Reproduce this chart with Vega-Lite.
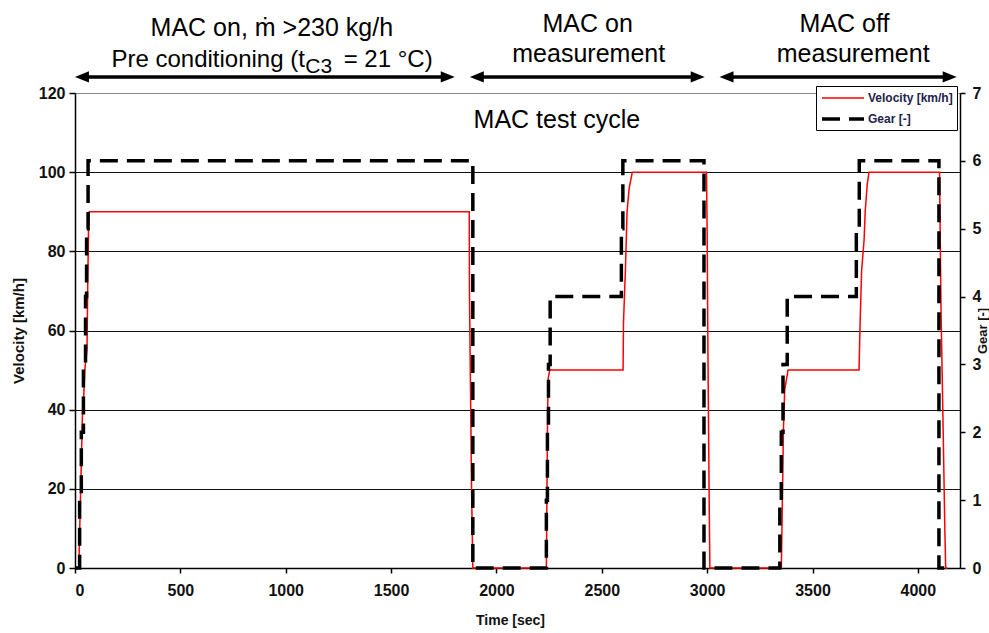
{
  "$schema": "https://vega.github.io/schema/vega-lite/v6.json",
  "width": 885,
  "height": 475,
  "autosize": {"type": "none"},
  "padding": {"left": 75, "top": 93, "right": 29, "bottom": 65},
  "background": "white",
  "config": {
    "view": {"stroke": null},
    "font": "Liberation Sans",
    "axis": {
      "labelFont": "Liberation Sans",
      "labelFontSize": 16,
      "labelFontWeight": "bold",
      "labelColor": "#111111",
      "titleFont": "Liberation Sans",
      "titleFontWeight": "bold",
      "titleColor": "#111111",
      "domainColor": "#000000",
      "domainWidth": 1.5,
      "tickColor": "#000000",
      "tickWidth": 1.5,
      "grid": false
    },
    "legend": {
      "orient": "none",
      "legendX": 741,
      "legendY": -7,
      "strokeColor": "#000000",
      "fillColor": "#ffffff",
      "padding": 4,
      "cornerRadius": 0,
      "labelFont": "Liberation Sans",
      "labelFontSize": 12,
      "labelFontWeight": "bold",
      "labelColor": "#22224a",
      "rowPadding": 6,
      "symbolType": "M-1,0H5",
      "symbolSize": 196,
      "labelOffset": 30
    }
  },
  "datasets": {
    "cycle": [
      {"s": "Velocity [km/h]", "t": 0, "y": 0},
      {"s": "Velocity [km/h]", "t": 18, "y": 0},
      {"s": "Velocity [km/h]", "t": 27, "y": 20},
      {"s": "Velocity [km/h]", "t": 36, "y": 40},
      {"s": "Velocity [km/h]", "t": 40, "y": 42},
      {"s": "Velocity [km/h]", "t": 48, "y": 51},
      {"s": "Velocity [km/h]", "t": 57, "y": 55},
      {"s": "Velocity [km/h]", "t": 60, "y": 70},
      {"s": "Velocity [km/h]", "t": 64, "y": 85},
      {"s": "Velocity [km/h]", "t": 68, "y": 90},
      {"s": "Velocity [km/h]", "t": 1871, "y": 90},
      {"s": "Velocity [km/h]", "t": 1872, "y": 70},
      {"s": "Velocity [km/h]", "t": 1875, "y": 55},
      {"s": "Velocity [km/h]", "t": 1878, "y": 40},
      {"s": "Velocity [km/h]", "t": 1882, "y": 20},
      {"s": "Velocity [km/h]", "t": 1888, "y": 0},
      {"s": "Velocity [km/h]", "t": 2237, "y": 0},
      {"s": "Velocity [km/h]", "t": 2240, "y": 20},
      {"s": "Velocity [km/h]", "t": 2243, "y": 40},
      {"s": "Velocity [km/h]", "t": 2246, "y": 48},
      {"s": "Velocity [km/h]", "t": 2253, "y": 50},
      {"s": "Velocity [km/h]", "t": 2601, "y": 50},
      {"s": "Velocity [km/h]", "t": 2603, "y": 62},
      {"s": "Velocity [km/h]", "t": 2612, "y": 75},
      {"s": "Velocity [km/h]", "t": 2620, "y": 90},
      {"s": "Velocity [km/h]", "t": 2630, "y": 96},
      {"s": "Velocity [km/h]", "t": 2645, "y": 100},
      {"s": "Velocity [km/h]", "t": 2997, "y": 100},
      {"s": "Velocity [km/h]", "t": 3000, "y": 85},
      {"s": "Velocity [km/h]", "t": 3003, "y": 60},
      {"s": "Velocity [km/h]", "t": 3006, "y": 40},
      {"s": "Velocity [km/h]", "t": 3010, "y": 15},
      {"s": "Velocity [km/h]", "t": 3013, "y": 0},
      {"s": "Velocity [km/h]", "t": 3352, "y": 0},
      {"s": "Velocity [km/h]", "t": 3358, "y": 20},
      {"s": "Velocity [km/h]", "t": 3362, "y": 35},
      {"s": "Velocity [km/h]", "t": 3368, "y": 45},
      {"s": "Velocity [km/h]", "t": 3384, "y": 50},
      {"s": "Velocity [km/h]", "t": 3721, "y": 50},
      {"s": "Velocity [km/h]", "t": 3723, "y": 55},
      {"s": "Velocity [km/h]", "t": 3726, "y": 62},
      {"s": "Velocity [km/h]", "t": 3733, "y": 75},
      {"s": "Velocity [km/h]", "t": 3745, "y": 83},
      {"s": "Velocity [km/h]", "t": 3750, "y": 90},
      {"s": "Velocity [km/h]", "t": 3760, "y": 97},
      {"s": "Velocity [km/h]", "t": 3768, "y": 100},
      {"s": "Velocity [km/h]", "t": 4103, "y": 100},
      {"s": "Velocity [km/h]", "t": 4106, "y": 84},
      {"s": "Velocity [km/h]", "t": 4110, "y": 65},
      {"s": "Velocity [km/h]", "t": 4120, "y": 35},
      {"s": "Velocity [km/h]", "t": 4128, "y": 10},
      {"s": "Velocity [km/h]", "t": 4132, "y": 0},
      {"s": "Velocity [km/h]", "t": 4140, "y": 0},
      {"s": "Gear [-]", "t": 0, "y": 0},
      {"s": "Gear [-]", "t": 22, "y": 1},
      {"s": "Gear [-]", "t": 30, "y": 2},
      {"s": "Gear [-]", "t": 40, "y": 3},
      {"s": "Gear [-]", "t": 50, "y": 4},
      {"s": "Gear [-]", "t": 55, "y": 5},
      {"s": "Gear [-]", "t": 62, "y": 6},
      {"s": "Gear [-]", "t": 1888, "y": 0},
      {"s": "Gear [-]", "t": 2237, "y": 1},
      {"s": "Gear [-]", "t": 2242, "y": 2},
      {"s": "Gear [-]", "t": 2247, "y": 3},
      {"s": "Gear [-]", "t": 2255, "y": 4},
      {"s": "Gear [-]", "t": 2593, "y": 5},
      {"s": "Gear [-]", "t": 2600, "y": 6},
      {"s": "Gear [-]", "t": 2985, "y": 0},
      {"s": "Gear [-]", "t": 3345, "y": 1},
      {"s": "Gear [-]", "t": 3352, "y": 2},
      {"s": "Gear [-]", "t": 3360, "y": 3},
      {"s": "Gear [-]", "t": 3380, "y": 4},
      {"s": "Gear [-]", "t": 3708, "y": 5},
      {"s": "Gear [-]", "t": 3722, "y": 6},
      {"s": "Gear [-]", "t": 4100, "y": 0},
      {"s": "Gear [-]", "t": 4145, "y": 0}
    ]
  },
  "layer": [
    {
      "layer": [
        {
          "data": {"name": "cycle"},
          "transform": [{"filter": "datum.s === 'Velocity [km/h]'"}],
          "mark": {"type": "line", "interpolate": "linear"},
          "encoding": {
            "x": {
              "field": "t", "type": "quantitative", "title": "Time [sec]",
              "scale": {"domain": [0, 4200], "nice": false, "zero": false},
              "axis": {
                "values": [0, 500, 1000, 1500, 2000, 2500, 3000, 3500, 4000],
                "format": "d",
                "titleFontSize": 14, "titleX": 435, "titleY": 45,
                "titleAlign": "center", "titleBaseline": "top",
                "labelPadding": 9, "tickSize": 5
              }
            },
            "y": {
              "field": "y", "type": "quantitative", "title": "Velocity [km/h]",
              "scale": {"domain": [0, 120], "nice": false},
              "axis": {
                "values": [0, 20, 40, 60, 80, 100, 120],
                "grid": true,
                "gridColor": {"condition": {"test": "datum.value === 120", "value": "#8a8a8a"}, "value": "#111111"},
                "gridWidth": 1.2,
                "titleFontSize": 15, "titleX": -64, "titleY": 237.5,
                "titleAngle": 270, "titleAlign": "center", "titleBaseline": "top",
                "labelPadding": 4, "tickSize": 6
              }
            },
            "color": {
              "field": "s", "type": "nominal",
              "scale": {"domain": ["Velocity [km/h]", "Gear [-]"], "range": ["#ff0000", "#000000"]},
              "legend": {"title": null}
            },
            "strokeDash": {
              "field": "s", "type": "nominal",
              "scale": {"domain": ["Velocity [km/h]", "Gear [-]"], "range": [[1, 0], [18, 9]]},
              "legend": {"title": null}
            },
            "strokeWidth": {
              "field": "s", "type": "nominal",
              "scale": {"domain": ["Velocity [km/h]", "Gear [-]"], "range": [1.5, 3.5]},
              "legend": {"title": null}
            }
          }
        },
        {
          "data": {"values": [
            {"t": 934, "y": 134.4, "label": "MAC on, ṁ >230 kg/h"},
            {"t": 2433, "y": 135.4, "label": "MAC on"},
            {"t": 2438, "y": 127.8, "label": "measurement"},
            {"t": 3652, "y": 135.4, "label": "MAC off"},
            {"t": 3693, "y": 127.8, "label": "measurement"},
            {"t": 2287, "y": 111.2, "label": "MAC test cycle"}
          ]},
          "mark": {"type": "text", "fontSize": 25, "align": "center", "baseline": "alphabetic", "color": "#000000"},
          "encoding": {
            "x": {"field": "t", "type": "quantitative", "title": "Time [sec]"},
            "y": {"field": "y", "type": "quantitative", "title": "Velocity [km/h]"},
            "text": {"field": "label"}
          }
        },
        {
          "data": {"values": [{"t": 1091, "y": 126.6, "label": "Pre conditioning (t"}]},
          "mark": {"type": "text", "fontSize": 24, "align": "right", "baseline": "alphabetic", "color": "#000000"},
          "encoding": {
            "x": {"field": "t", "type": "quantitative", "title": "Time [sec]"},
            "y": {"field": "y", "type": "quantitative", "title": "Velocity [km/h]"},
            "text": {"field": "label"}
          }
        },
        {
          "data": {"values": [{"t": 1093, "y": 125.1, "label": "C3"}]},
          "mark": {"type": "text", "fontSize": 21, "align": "left", "baseline": "alphabetic", "color": "#000000"},
          "encoding": {
            "x": {"field": "t", "type": "quantitative", "title": "Time [sec]"},
            "y": {"field": "y", "type": "quantitative", "title": "Velocity [km/h]"},
            "text": {"field": "label"}
          }
        },
        {
          "data": {"values": [{"t": 1275, "y": 126.6, "label": "= 21 °C)"}]},
          "mark": {"type": "text", "fontSize": 24, "align": "left", "baseline": "alphabetic", "color": "#000000"},
          "encoding": {
            "x": {"field": "t", "type": "quantitative", "title": "Time [sec]"},
            "y": {"field": "y", "type": "quantitative", "title": "Velocity [km/h]"},
            "text": {"field": "label"}
          }
        },
        {
          "data": {"values": [
            {"t": 33, "t2": 1769, "y": 124.05},
            {"t": 1907, "t2": 2955, "y": 124.05},
            {"t": 3092, "t2": 4151, "y": 124.05}
          ]},
          "mark": {"type": "rule", "strokeWidth": 3.5, "color": "#000000"},
          "encoding": {
            "x": {"field": "t", "type": "quantitative", "title": "Time [sec]"},
            "x2": {"field": "t2"},
            "y": {"field": "y", "type": "quantitative", "title": "Velocity [km/h]"}
          }
        },
        {
          "data": {"values": [
            {"t": 33, "y": 124.05},
            {"t": 1907, "y": 124.05},
            {"t": 3092, "y": 124.05}
          ]},
          "mark": {"type": "point", "shape": "M1,-0.8L-1,0L1,0.8Z", "size": 196, "filled": true, "color": "#000000", "opacity": 1},
          "encoding": {
            "x": {"field": "t", "type": "quantitative", "title": "Time [sec]"},
            "y": {"field": "y", "type": "quantitative", "title": "Velocity [km/h]"}
          }
        },
        {
          "data": {"values": [
            {"t": 1769, "y": 124.05},
            {"t": 2955, "y": 124.05},
            {"t": 4151, "y": 124.05}
          ]},
          "mark": {"type": "point", "shape": "M-1,-0.8L1,0L-1,0.8Z", "size": 196, "filled": true, "color": "#000000", "opacity": 1},
          "encoding": {
            "x": {"field": "t", "type": "quantitative", "title": "Time [sec]"},
            "y": {"field": "y", "type": "quantitative", "title": "Velocity [km/h]"}
          }
        }
      ]
    },
    {
      "data": {"name": "cycle"},
      "transform": [{"filter": "datum.s === 'Gear [-]'"}],
      "mark": {"type": "line", "interpolate": "step-after"},
      "encoding": {
        "x": {"field": "t", "type": "quantitative", "title": "Time [sec]"},
        "y": {
          "field": "y", "type": "quantitative", "title": "Gear [-]",
          "scale": {"domain": [0, 7], "nice": false},
          "axis": {
            "orient": "right",
            "values": [0, 1, 2, 3, 4, 5, 6, 7],
            "grid": false,
            "titleFontSize": 13, "titleX": 16, "titleY": 237.5,
            "titleAngle": 270, "titleAlign": "center", "titleBaseline": "top",
            "labelPadding": 7, "tickSize": 5
          }
        },
        "color": {"field": "s", "type": "nominal"},
        "strokeDash": {"field": "s", "type": "nominal"},
        "strokeWidth": {"field": "s", "type": "nominal"}
      }
    }
  ],
  "resolve": {"scale": {"y": "independent"}}
}
